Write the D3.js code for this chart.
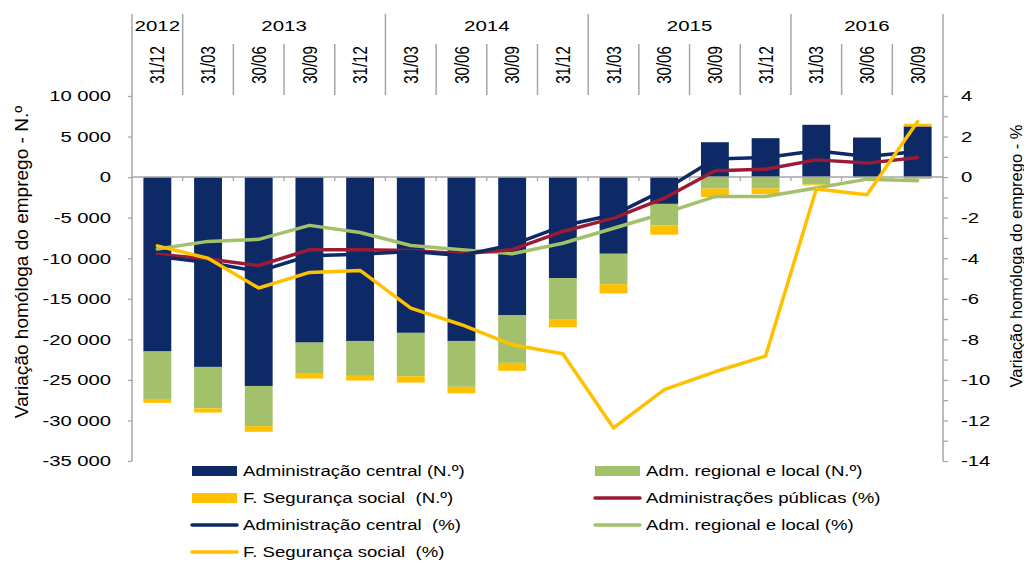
<!DOCTYPE html>
<html>
<head>
<meta charset="utf-8">
<script src="https://cdn.jsdelivr.net/npm/d3@7"></script>
<style>
  body { margin: 0; background: #fff; }
  svg text { font-family: "Liberation Sans", Arial, sans-serif; fill: #000; white-space: pre; }
</style>
</head>
<body>
<svg id="chart" width="1024" height="562"></svg>
<script>
// categories (quarter ends) and the year row above them
var periods = ["31/12", "31/03", "30/06", "30/09", "31/12", "31/03", "30/06", "30/09",
               "31/12", "31/03", "30/06", "30/09", "31/12", "31/03", "30/06", "30/09"];
var years = ["2012", "2013", "2014", "2015", "2016"];
var yearSpans = [1, 4, 4, 4, 3];

// bars - N.º (left axis)
var adminCentralN = [-21500, -23400, -25750, -20400, -20200, -19200, -20200, -17000,
                     -12450, -9450, -3300, 4300, 4800, 6450, 4880, 6250];
var admRegionalN = [-5850, -5100, -4950, -3850, -4300, -5350, -5650, -5900,
                    -5050, -3750, -2650, -1400, -1400, -900, -60, -200];
var segSocialN = [-480, -520, -700, -580, -580, -780, -800, -980,
                  -1020, -1150, -1150, -1050, -700, -120, 0, 330];

// lines - % (right axis)
var adminPublicasPct = [-3.8, -4.04, -4.36, -3.58, -3.58, -3.62, -3.78, -3.58,
                        -2.68, -2.02, -1.04, 0.31, 0.39, 0.85, 0.69, 0.97];
var adminCentralPct = [-3.91, -4.21, -4.65, -3.88, -3.8, -3.67, -3.86, -3.34,
                       -2.4, -1.86, -0.63, 0.89, 0.97, 1.3, 1.02, 1.26];
var admRegionalPct = [-3.55, -3.17, -3.07, -2.38, -2.73, -3.37, -3.58, -3.78,
                      -3.26, -2.52, -1.78, -0.96, -0.96, -0.54, -0.1, -0.18];
var segSocialPct = [-3.39, -4.0, -5.47, -4.7, -4.6, -6.46, -7.28, -8.27,
                    -8.71, -12.37, -10.48, -9.6, -8.82, -0.59, -0.87, 2.74];

var leftTicks = d3.range(-35000, 10001, 5000);

var navy = "#0d2a67", green = "#a3c16a", yellow = "#ffc000", red = "#9b1b35", grey = "#a6a6a6";

var svg = d3.select("#chart");
var plotLeft = 132, plotRight = 943, plotTop = 96, plotBottom = 461;

var x = d3.scaleBand()
    .domain(d3.range(periods.length))
    .range([plotLeft, plotRight]);
var bw = x.bandwidth();

var y = d3.scaleLinear().domain([-35000, 10000]).range([plotBottom, plotTop]);
var y2 = d3.scaleLinear().domain([-14, 4]).range([plotBottom, plotTop]);

var fmt = function(d) { return d3.format(",")(d).replace(/,/g, " ").replace("−", "-"); };

// stacked bars
var rows = periods.map(function(p, i) {
  return { i: i, central: adminCentralN[i], regional: admRegionalN[i], social: segSocialN[i] };
});
var stack = d3.stack()
    .keys(["central", "regional", "social"])
    .offset(d3.stackOffsetDiverging);
var colors = { central: navy, regional: green, social: yellow };

svg.append("g").selectAll("g")
  .data(stack(rows))
  .enter().append("g")
    .attr("fill", function(s) { return colors[s.key]; })
  .selectAll("rect")
  .data(function(s) { return s; })
  .enter().append("rect")
    .attr("x", function(d) { return x(d.data.i) + bw * 0.225; })
    .attr("width", bw * 0.55)
    .attr("y", function(d) { return y(Math.max(d[0], d[1])); })
    .attr("height", function(d) { return Math.abs(y(d[0]) - y(d[1])); });

// axes
var yAxis = svg.append("g")
    .attr("transform", "translate(" + plotLeft + ",0)")
    .call(d3.axisLeft(y).tickValues(leftTicks).tickSize(4).tickFormat(fmt));
yAxis.select(".domain").remove();
yAxis.selectAll("line").attr("stroke", grey).attr("stroke-width", 1.3);
yAxis.selectAll("text")
    .attr("x", -21 / 1.35)
    .attr("transform", "scale(1.35,1)")
    .style("font-size", "15px")
    .attr("font-family", null);

var yAxis2 = svg.append("g")
    .attr("transform", "translate(" + plotRight + ",0)")
    .call(d3.axisRight(y2).ticks(18).tickSize(5).tickFormat(function(d) { return d % 2 === 0 ? fmt(d) : ""; }));
yAxis2.select(".domain").remove();
yAxis2.selectAll("line").attr("stroke", grey).attr("stroke-width", 1.3);
yAxis2.selectAll("text")
    .attr("x", 18 / 1.35)
    .attr("transform", "scale(1.35,1)")
    .style("font-size", "15px");

// vertical axis lines (run up into the header)
svg.append("line").attr("x1", plotLeft).attr("x2", plotLeft).attr("y1", 14).attr("y2", plotBottom)
    .attr("stroke", grey).attr("stroke-width", 1.5);
svg.append("line").attr("x1", plotRight).attr("x2", plotRight).attr("y1", 14).attr("y2", plotBottom)
    .attr("stroke", grey).attr("stroke-width", 1.5);

// zero line with category ticks
svg.append("line").attr("x1", plotLeft).attr("x2", plotRight).attr("y1", y(0)).attr("y2", y(0))
    .attr("stroke", grey).attr("stroke-width", 1.5);
svg.append("g").selectAll("line")
  .data(d3.range(1, periods.length))
  .enter().append("line")
    .attr("x1", function(i) { return x(i); })
    .attr("x2", function(i) { return x(i); })
    .attr("y1", y(0)).attr("y2", y(0) + 4)
    .attr("stroke", grey).attr("stroke-width", 1.3);

// header: years and quarter labels
var yearStart = [];
yearSpans.reduce(function(a, n) { yearStart.push(a); return a + n; }, 0);

var header = svg.append("g");
header.selectAll("line.q")
  .data(d3.range(1, periods.length))
  .enter().append("line")
    .attr("x1", function(i) { return x(i); })
    .attr("x2", function(i) { return x(i); })
    .attr("y1", function(i) { return yearStart.indexOf(i) >= 0 ? 14 : 44; })
    .attr("y2", 95)
    .attr("stroke", grey).attr("stroke-width", 1.5);

header.selectAll("text.year")
  .data(years)
  .enter().append("text")
    .attr("text-anchor", "middle")
    .style("font-size", "15.5px")
    .attr("transform", function(d, k) {
      var cx = x(yearStart[k]) + bw * yearSpans[k] / 2;
      return "translate(" + cx + ",31) scale(1.32,1)";
    })
    .text(function(d) { return d; });

header.selectAll("text.period")
  .data(periods)
  .enter().append("text")
    .attr("text-anchor", "middle")
    .attr("dy", "0.35em")
    .style("font-size", "15px")
    .attr("transform", function(d, i) {
      return "translate(" + (x(i) + bw / 2) + ",65) rotate(-90) scale(1,1.35)";
    })
    .text(function(d) { return d; });

// lines
var line = function(scale) {
  return d3.line()
    .x(function(d, i) { return x(i) + bw / 2; })
    .y(function(d) { return scale(d); });
};
var series = [
  { values: admRegionalPct, color: green },
  { values: adminPublicasPct, color: red },
  { values: adminCentralPct, color: navy },
  { values: segSocialPct, color: yellow }
];
svg.append("g").selectAll("path")
  .data(series)
  .enter().append("path")
    .attr("d", function(s) { return line(y2)(s.values); })
    .attr("fill", "none")
    .attr("stroke", function(s) { return s.color; })
    .attr("stroke-width", 3.5)
    .attr("stroke-linejoin", "round")
    .attr("stroke-linecap", "round");

// axis titles
svg.append("text")
    .attr("text-anchor", "middle")
    .attr("dy", "0.35em")
    .style("font-size", "17px")
    .attr("transform", "translate(21,262) rotate(-90) scale(1.12,1.1)")
    .text("Variação homóloga do emprego - N.º");
svg.append("text")
    .attr("text-anchor", "middle")
    .attr("dy", "0.35em")
    .style("font-size", "15px")
    .attr("transform", "translate(1016,256) rotate(-90) scale(1.1,1.1)")
    .text("Variação homóloga do emprego - %");

// legend
var legendItems = [
  { label: "Administração central (N.º)", color: navy, type: "rect", col: 0, row: 0 },
  { label: "Adm. regional e local (N.º)", color: green, type: "rect", col: 1, row: 0 },
  { label: "F. Segurança social  (N.º)", color: yellow, type: "rect", col: 0, row: 1 },
  { label: "Administrações públicas (%)", color: red, type: "line", col: 1, row: 1 },
  { label: "Administração central  (%)", color: navy, type: "line", col: 0, row: 2 },
  { label: "Adm. regional e local (%)", color: green, type: "line", col: 1, row: 2 },
  { label: "F. Segurança social  (%)", color: yellow, type: "line", col: 0, row: 3 }
];
var colX = [192, 595], rowY0 = 471, rowStep = 27;

var legend = svg.append("g").selectAll("g")
  .data(legendItems)
  .enter().append("g")
    .attr("transform", function(d) { return "translate(" + colX[d.col] + "," + (rowY0 + d.row * rowStep) + ")"; });

legend.filter(function(d) { return d.type === "rect"; })
  .append("rect")
    .attr("x", 0).attr("y", -5).attr("width", 45).attr("height", 10)
    .attr("fill", function(d) { return d.color; });
legend.filter(function(d) { return d.type === "line"; })
  .append("line")
    .attr("x1", 0).attr("x2", 45).attr("y1", 0).attr("y2", 0)
    .attr("stroke", function(d) { return d.color; })
    .attr("stroke-width", 3.5)
    .attr("stroke-linecap", "round");
legend.append("text")
    .attr("dy", "0.35em")
    .style("font-size", "15.5px")
    .attr("transform", "translate(51,0) scale(1.2,1)")
    .text(function(d) { return d.label; });
</script>
</body>
</html>
